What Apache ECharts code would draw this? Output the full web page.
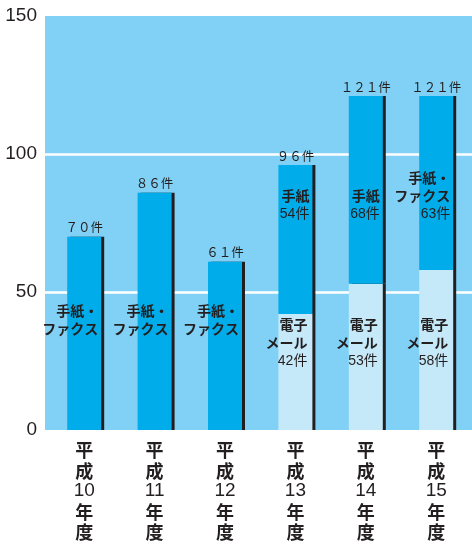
<!DOCTYPE html>
<html>
<head>
<meta charset="utf-8">
<script src="https://cdn.jsdelivr.net/npm/echarts@6/dist/echarts.min.js"></script>
<style>
html,body{margin:0;padding:0;background:#fff;}
#chart{width:472px;height:548px;}
</style>
</head>
<body>
<div id="chart"></div>
<script>
// ---- data ----
const categories = ['平成10年度', '平成11年度', '平成12年度', '平成13年度', '平成14年度', '平成15年度'];
const letterFax = [70, 86, 61, 54, 68, 63];     // 手紙・ファクス
const email = [0, 0, 0, 42, 53, 58];            // 電子メール
const totals = [70, 86, 61, 96, 121, 121];       // 合計件数
const yTicks = [0, 50, 100, 150];

// ---- style ----
const INK = '#231f20';
const BG = '#80d1f5';
const DARK = '#00adea';
const LIGHT = '#c6e9f9';
const CJK = '"Noto Sans CJK JP"';
const NUM = '"Liberation Sans", "Noto Sans CJK JP"';

// label anchor levels (in data units) for the in-bar text blocks (bottom of block)
const anchorLetterWithMail = 75;
const anchorLetterOnly = 33.3;
const anchorMail = 21.7;

function fullWidth(s) {
  return String(s).replace(/[0-9]/g, c => String.fromCharCode(c.charCodeAt(0) + 0xFEE0));
}

const chart = echarts.init(document.getElementById('chart'));

function yPix(v) { return chart.convertToPixel({ yAxisIndex: 1 }, v); }

function letterLabel(p) {
  const i = p.dataIndex;
  if (email[i] === 0) return '{b|手紙・}\n{b|ファクス}';
  if (i === categories.length - 1) return '{b|手紙・}\n{b|ファクス}\n{n|' + letterFax[i] + '件}';
  return '{b|手紙}\n{n|' + letterFax[i] + '件}';
}
function mailLabel(p) {
  const i = p.dataIndex;
  if (!email[i]) return '';
  return '{b|電子}\n{b|メール}\n{n|' + email[i] + '件}';
}

const richIn = {
  b: { fontFamily: CJK, fontWeight: 'bold', fontSize: 14, color: INK, lineHeight: 18, align: 'right' },
  n: { fontFamily: NUM, fontSize: 14, color: INK, lineHeight: 18, align: 'right' }
};

const shadow = { shadowColor: INK, shadowOffsetX: 3, shadowOffsetY: 0, shadowBlur: 0 };

const option = {
  animation: false,
  backgroundColor: '#fff',
  grid: [
    { left: 45, right: 0, top: 16, bottom: 118, show: true, backgroundColor: BG, borderWidth: 0 },
    { left: 49, width: 422.4, top: 16, bottom: 118 }
  ],
  xAxis: [
    { type: 'category', gridIndex: 0, data: categories, show: false },
    {
      type: 'category', gridIndex: 1, data: categories,
      axisLine: { show: false }, axisTick: { show: false },
      axisLabel: {
        margin: 10,
        interval: 0,
        formatter: v => v.match(/\d+|./g).map(t => /\d/.test(t) ? '{d|' + t + '}' : '{k|' + t + '}').join('\n'),
        rich: {
          k: { fontFamily: CJK, fontWeight: 'bold', fontSize: 18, color: INK, lineHeight: 20.5 },
          d: { fontFamily: '"Liberation Sans"', fontSize: 19, color: INK, lineHeight: 20.5 }
        }
      }
    }
  ],
  yAxis: [
    {
      type: 'value', gridIndex: 0, min: yTicks[0], max: yTicks[yTicks.length - 1],
      interval: yTicks[1] - yTicks[0],
      axisLine: { show: false }, axisTick: { show: false },
      axisLabel: { margin: 8, fontFamily: '"Liberation Sans"', fontSize: 19, color: INK },
      splitLine: { show: true, lineStyle: { color: ['rgba(0,0,0,0)', '#ffffff', '#ffffff', 'rgba(0,0,0,0)'], width: 2.5 } }
    },
    {
      type: 'value', gridIndex: 1, min: yTicks[0], max: yTicks[yTicks.length - 1],
      interval: yTicks[1] - yTicks[0], show: false, splitLine: { show: false }
    }
  ],
  series: [
    {
      name: '電子メール', type: 'bar', xAxisIndex: 1, yAxisIndex: 1, stack: 'total',
      barWidth: 34, data: email,
      itemStyle: Object.assign({ color: LIGHT }, shadow),
      label: { show: true, formatter: mailLabel, rich: richIn },
      labelLayout: p => ({ x: p.rect.x + p.rect.width - 5, y: yPix(anchorMail), align: 'right', verticalAlign: 'bottom' })
    },
    {
      name: '手紙・ファクス', type: 'bar', xAxisIndex: 1, yAxisIndex: 1, stack: 'total',
      barWidth: 34, data: letterFax,
      itemStyle: Object.assign({ color: DARK }, shadow),
      label: { show: true, formatter: letterLabel, rich: richIn },
      labelLayout: p => {
        const i = p.dataIndex;
        const a = email[i] ? anchorLetterWithMail : anchorLetterOnly;
        return { x: p.rect.x + p.rect.width - 3, y: yPix(a), align: 'right', verticalAlign: 'bottom' };
      }
    },
    {
      name: '合計', type: 'bar', xAxisIndex: 1, yAxisIndex: 1,
      barWidth: 34, barGap: '-100%', data: totals, z: 1,
      itemStyle: { color: 'rgba(0,0,0,0)' },
      label: {
        show: true, position: 'top', distance: 3,
        formatter: p => fullWidth(p.value) + '件',
        fontFamily: CJK, fontSize: 12.5, color: INK
      }
    }
  ]
};
chart.setOption(option);
</script>
</body>
</html>
